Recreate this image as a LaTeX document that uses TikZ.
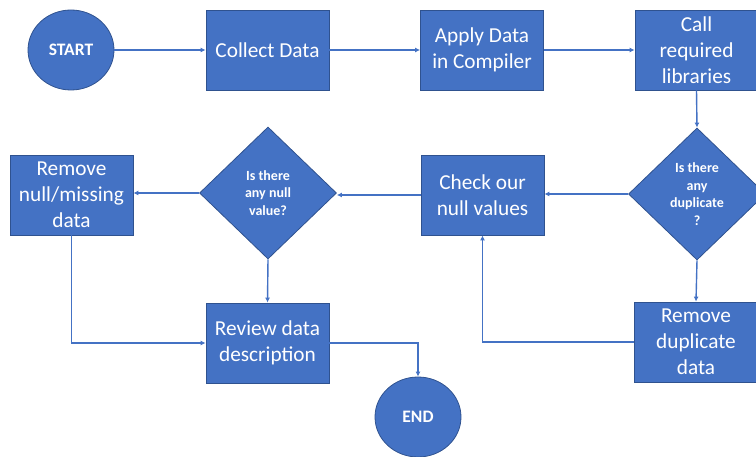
\documentclass[tikz,border=0pt]{standalone}
\usepackage{fontspec}
\setmainfont{Carlito}
\usetikzlibrary{shapes.geometric,arrows.meta}
\definecolor{fillblue}{HTML}{4472C4}
\definecolor{edgeblue}{HTML}{2F528F}
\begin{document}
\begin{tikzpicture}[x=1pt,y=-1pt,
  box/.style={draw=edgeblue, fill=fillblue, line width=0.8pt, text=white,
    minimum width=123pt, minimum height=80pt, inner sep=0pt, align=center,
    font=\fontsize{21.3}{26}\selectfont},
  decision/.style={diamond, draw=edgeblue, fill=fillblue, line width=0.8pt, text=white,
    minimum width=137pt, minimum height=132pt, inner sep=0pt, align=center,
    font=\bfseries\fontsize{14}{17.5}\selectfont},
  terminal/.style={ellipse, draw=edgeblue, fill=fillblue, line width=0.8pt, text=white,
    minimum width=86pt, minimum height=80pt, inner sep=0pt,
    font=\bfseries\fontsize{17.5}{20}\selectfont},
  flow/.style={draw=fillblue, line width=1.4pt, -{Latex[length=5pt,width=5pt]}}]
\useasboundingbox (0,0) rectangle (756,457);

% nodes
\node[terminal] (start) at (71,50) {START};
\node[box] (collect) at (267.5,50) {Collect Data};
\node[box] (apply) at (482,50) {Apply Data\\in Compiler};
\node[box] (call) at (696.5,50) {Call\\required\\libraries};
\node[decision] (dup) at (697,194) {Is there\\any\\duplicate\\?};
\node[box] (check) at (482.5,195) {Check our\\null values};
\node[decision] (nulld) at (268,193) {Is there\\any null\\value?};
\node[box] (rmnull) at (71.5,195) {Remove\\null/missing\\data};
\node[box] (review) at (267.5,343) {Review data\\description};
\node[box] (rmdup) at (696,342) {Remove\\duplicate\\data};
\node[terminal] (end) at (418,417) {END};

% connectors
\draw[flow] (start) -- (collect);
\draw[flow] (collect) -- (apply);
\draw[flow] (apply) -- (call);
\draw[flow] (call.south) -- (dup.north);
\draw[flow] (dup.west) -- (dup.west -| check.east);
\draw[flow] (check.west) -- (check.west -| nulld.east);
\draw[flow] (nulld.west) -- (nulld.west -| rmnull.east);
\draw[flow] (nulld.south) -- (review.north);
\draw[flow] (rmnull.south) |- (review.west);
\draw[flow] (review.east) -| (end.north);
\draw[flow] (dup.south) -- (rmdup.north);
\draw[flow] (rmdup.west) -| (check.south);
\end{tikzpicture}
\end{document}
